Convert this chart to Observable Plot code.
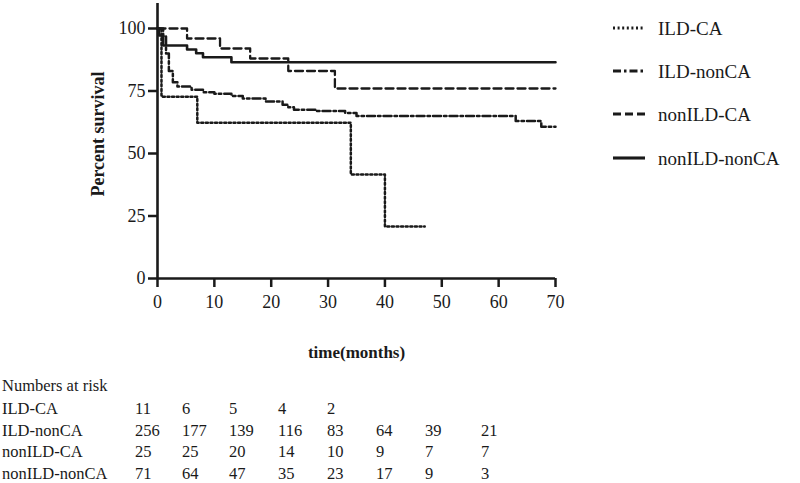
<!DOCTYPE html>
<html>
<head>
<meta charset="utf-8">
<script src="https://cdn.jsdelivr.net/npm/d3@7"></script>
<script src="https://cdn.jsdelivr.net/npm/@observablehq/plot@0.6"></script>
<style>
  body { margin: 0; background: #fff; }
  #wrap { position: relative; width: 800px; height: 483px; font-family: "Liberation Serif", "DejaVu Serif", serif; color: #1a1a1a; }
  #chart { position: absolute; left: 0; top: 0; }
  #chart svg, #chart svg text { font-family: "Liberation Serif", "DejaVu Serif", serif !important; }
  .abs { position: absolute; white-space: nowrap; line-height: 1; }
</style>
</head>
<body>
<div id="wrap"><div id="chart"></div></div>
<script>
// ---- data ----
const groups = ["ILD-CA", "ILD-nonCA", "nonILD-CA", "nonILD-nonCA"];
const dashes = ["2,2.6", "8,3,2.5,3", "8,4", null];
const widths = [2.5, 2.5, 2.3, 2.6];

const ildCaT = [0, 0.7, 7, 34, 40, 47];
const ildCaS = [100, 72.7, 62.3, 41.6, 20.8, 20.8];

const ildNonCaT = [0, 1, 1.5, 2, 2.7, 3.5, 6, 8, 10, 13, 15, 19, 22, 23, 24, 28, 33, 35, 63, 67.5, 70];
const ildNonCaS = [100, 97, 90, 83, 78.5, 76.8, 75.5, 74.5, 73.9, 73, 72, 70.8, 69.5, 68.5, 67.5, 67, 66.2, 65, 63, 60.7, 60.7];

const nonIldCaT = [0, 5.2, 11, 16.3, 23, 31.2, 70];
const nonIldCaS = [100, 96, 92, 88, 83, 76, 76];

const nonIldNonCaT = [0, 0.3, 1, 5.2, 6.8, 8, 13, 70];
const nonIldNonCaS = [100, 97.2, 93.2, 91.6, 90.1, 88.5, 86.5, 86.5];

const xTicks = [0, 10, 20, 30, 40, 50, 60, 70];
const yTicks = [0, 25, 50, 75, 100];

const riskTitle = "Numbers at risk";
const riskILDCA = [11, 6, 5, 4, 2];
const riskILDnonCA = [256, 177, 139, 116, 83, 64, 39, 21];
const riskNonILDCA = [25, 25, 20, 14, 10, 9, 7, 7];
const riskNonILDnonCA = [71, 64, 47, 35, 23, 17, 9, 3];

// ---- build ----
const series = [
  [ildCaT, ildCaS], [ildNonCaT, ildNonCaS], [nonIldCaT, nonIldCaS], [nonIldNonCaT, nonIldNonCaS]
];
const ink = "#1a1a1a";
const font = "Liberation Serif, DejaVu Serif, serif";

const lineMarks = series.map(([T, S], i) =>
  Plot.line(T.map((t, j) => ({t, s: S[j]})), {
    x: "t", y: "s", curve: "step-after", stroke: ink,
    strokeWidth: widths[i], strokeDasharray: dashes[i] || undefined
  })
);

const chart = Plot.plot({
  width: 800, height: 370,
  marginLeft: 157, marginRight: 245, marginTop: 3, marginBottom: 92,
  style: { fontFamily: font, color: ink, background: "#fff" },
  x: { domain: [0, 70], ticks: xTicks },
  y: { domain: [0, 110], ticks: yTicks },
  marks: [
    Plot.axisX({ ticks: xTicks, tickSize: 9, tickPadding: 8, fontSize: 18, fontFamily: font, strokeWidth: 2.5, label: null }),
    Plot.axisY({ ticks: yTicks, tickSize: 9, tickPadding: 3, fontSize: 18, fontFamily: font, strokeWidth: 2.5, label: null }),
    Plot.ruleX([0], { y1: 0, y2: 110, stroke: ink, strokeWidth: 2.6 }),
    Plot.ruleY([0], { x1: 0, x2: 70, stroke: ink, strokeWidth: 2.6 }),
    ...lineMarks,
    Plot.text(["Percent survival"], { frameAnchor: "left", textAnchor: "middle", dx: -59, dy: -7, rotate: -90, fontSize: 18, fontWeight: "bold", fontFamily: font, fill: ink }),
    Plot.text(["time(months)"], { frameAnchor: "bottom", textAnchor: "middle", lineAnchor: "middle", dy: 74, fontSize: 17, fontWeight: "bold", fontFamily: font, fill: ink })
  ]
});
document.getElementById("chart").appendChild(chart);

const wrap = document.getElementById("wrap");
// legend
const legY = [28, 71, 114, 158];
groups.forEach((g, i) => {
  const d = document.createElement("div");
  d.className = "abs";
  d.style.left = "612px";
  d.style.top = (legY[i] - 12) + "px";
  d.style.fontSize = "19px";
  d.innerHTML = `<svg width="36" height="24" style="vertical-align:middle;margin-right:10px"><line x1="1" x2="33" y1="12" y2="12" stroke="${ink}" stroke-width="${widths[i] + 0.5}" ${dashes[i] ? `stroke-dasharray="${dashes[i]}"` : ""}/></svg><span style="vertical-align:middle">${g}</span>`;
  wrap.appendChild(d);
});

// numbers at risk table
const riskRows = [riskILDCA, riskILDnonCA, riskNonILDCA, riskNonILDnonCA];
const colX = [135, 182, 229, 278, 327, 376, 425, 481];
const rowY = [410, 432, 453, 475];
function addText(txt, x, yc, size) {
  const s = document.createElement("div");
  s.className = "abs";
  s.style.left = x + "px";
  s.style.top = (yc - size * 0.55) + "px";
  s.style.fontSize = size + "px";
  s.textContent = txt;
  wrap.appendChild(s);
}
addText(riskTitle, 2, 387, 16.5);
riskRows.forEach((row, r) => {
  addText(groups[r], 2, rowY[r], 16.5);
  row.forEach((v, c) => addText(String(v), colX[c], rowY[r], 16.5));
});
</script>
</body>
</html>
